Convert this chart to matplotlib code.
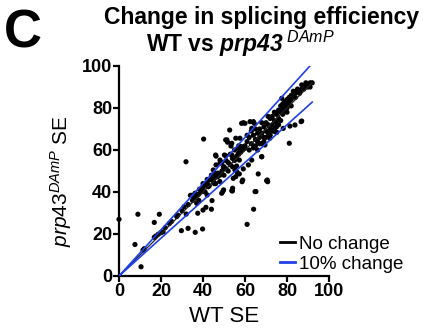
import matplotlib
matplotlib.use("Agg")
import matplotlib.pyplot as plt
from matplotlib.lines import Line2D

plt.rcParams['font.family'] = ['Liberation Sans', 'DejaVu Sans']
plt.rcParams['mathtext.fontset'] = 'custom'
plt.rcParams['mathtext.rm'] = 'Liberation Sans'
plt.rcParams['mathtext.it'] = 'Liberation Sans:italic'
plt.rcParams['mathtext.bf'] = 'Liberation Sans:bold'
plt.rcParams['mathtext.bfit'] = 'Liberation Sans:italic:bold'

# ---- data (WT SE, prp43 DAmP SE) ----
wt_se = [
    0, 9, 7.6, 10.5, 11.4, 12, 16.8, 19.2, 16.8, 18.7, 19.9, 17.5, 27.5, 29.7, 32, 32.9, 36.3, 34, 37.5, 37.3,
    39.8, 40, 41.4, 44, 44.3, 42.5, 45.4, 42, 37, 38, 48.9, 49.8, 54, 58.6, 64.8, 64.1, 61, 70.8,
    31.9, 40.3, 52.7, 59.2, 64.4, 46.2, 50.8, 51.4, 53.3, 55.6, 56.8, 58.9, 57.3, 59.2, 56.3, 55.6, 58.9, 54.1,
    66.3, 70.6, 75.1, 81.1, 86.7, 81.4, 77.5, 67.9, 69.5, 71.9, 46.2, 48.1,
    58.4, 63.2, 62.4, 51.7, 50.8, 57.6, 53.7, 46, 50.2, 53.7, 56.8, 58.4, 48.1, 49.7, 45.7, 44.9, 47, 43, 41,
    38.3, 36.2, 34.6, 56, 55.2, 57.3, 54.4, 49.4, 53.7, 65.2, 68, 70.3, 63.2, 61.6, 60,
    87, 83.8, 78.2, 74.3, 64, 60,
    60, 61, 62, 62, 63, 64, 64, 65, 65, 66, 66, 67, 67, 68, 68, 69, 69, 70, 70, 71, 71, 72, 72, 73, 73, 74, 74,
    75, 75, 76, 76, 77, 77, 78, 78, 79, 79, 80, 80, 81, 61, 63, 66, 67, 69, 70, 72, 73, 75, 76, 65, 68, 71, 74,
    77, 78, 79, 80, 81, 82, 83, 84, 85, 86, 87, 88, 89, 90, 91, 82, 84, 86, 88, 90, 83, 85, 87, 89, 91, 81, 80,
    79, 82, 92,
    36, 38, 39, 40, 41, 42, 43, 44, 45, 46, 47, 48, 49, 50, 51, 52, 53, 54, 55, 56, 57, 58, 59, 52, 54, 50, 48,
    46, 55, 57, 53, 51, 49, 44, 42, 40,
    22, 25, 28, 30, 33, 35, 31, 24, 21,
]
mut_se = [
    27, 29.4, 15, 4.4, 12.3, 13, 25.5, 29.4, 18.4, 19.9, 20.6, 19, 28.3, 21.6, 29.5, 22.7, 20.8, 38.4, 29.9, 38.4,
    22.4, 31.4, 32.7, 31.8, 35.9, 42.5, 44, 38.6, 34.6, 36, 39.4, 41, 40.5, 44.9, 40.2, 31.8, 24.6, 44.9,
    54.4, 65.2, 69.5, 73, 72.7, 57.1, 57.3, 64.8, 61.9, 65.6, 60.8, 60, 55.2, 51, 49.4, 47.3, 45.7, 41.8,
    48.6, 45.7, 68.4, 63.2, 73.5, 71.4, 84.6, 56.8, 62.4, 65.6, 52.9, 55.2,
    72.7, 70.3, 73.5, 63.7, 64.8, 65.6, 63.2, 57.6, 57.6, 57.6, 58.4, 61.6, 53.7, 51.8, 48.9, 50.5, 47.3, 45.7, 43.3,
    41.3, 39.4, 38.4, 52.4, 50.5, 48.6, 46.5, 40.2, 40.6, 40.2, 56.8, 45.4, 55.2, 52.9, 60.8,
    73.8, 71.9, 70.3, 68.7, 73.5, 72.7,
    62, 64, 60, 66, 63, 61, 67, 65, 62, 68, 64, 66, 70, 63, 68, 71, 66, 69, 73, 68, 72, 70, 75, 72, 76, 74, 70,
    77, 73, 75, 79, 78, 74, 80, 77, 79, 82, 81, 78, 83, 67, 69, 60, 63, 64, 66, 67, 69, 71, 72, 70, 73, 76, 78,
    81, 82, 83, 84, 85, 86, 86, 87, 88, 88, 89, 90, 90, 91, 92, 84, 85, 87, 89, 90, 88, 89, 91, 92, 90, 82, 80,
    80, 81, 92,
    37, 39, 40, 42, 40, 44, 43, 46, 45, 47, 49, 48, 50, 52, 51, 54, 53, 56, 55, 57, 58, 59, 61, 50, 52, 48, 45,
    44, 60, 62, 58, 55, 54, 48, 46, 44,
    23, 26, 29, 31, 34, 36, 33, 25, 21,
]
line_end = 92
ticks = [0, 20, 40, 60, 80, 100]
legend_labels = ["No change", "10% change"]

blue = '#2040e8'

fig = plt.figure(figsize=(4.32, 3.35), dpi=100)
ax = fig.add_axes([119/432, 59/335, 210/432, 210/335])

ax.scatter(wt_se, mut_se, s=14, color='black', edgecolors='none', zorder=2, clip_on=False)
ax.plot([0, line_end], [0, line_end], color='#222222', lw=0.9, zorder=3)
ax.plot([0, line_end], [0, line_end * 1.1], color=blue, lw=1.2, zorder=3)
ax.plot([0, line_end], [0, line_end * 0.9], color=blue, lw=1.2, zorder=3)

ax.set_xlim(0, 100)
ax.set_ylim(0, 100)
ax.set_xticks(ticks)
ax.set_yticks(ticks)
ax.set_xticklabels([str(t) for t in ticks], fontsize=13, fontweight='bold')
ax.set_yticklabels([str(t) for t in ticks], fontsize=13, fontweight='bold')
for s in ['top', 'right']:
    ax.spines[s].set_visible(False)
for s in ['left', 'bottom']:
    ax.spines[s].set_linewidth(1.6)
ax.tick_params(direction='out', length=4, width=1.6, pad=1)

ax.set_xlabel('WT SE', fontsize=16, labelpad=4)
ax.set_ylabel(r'$\mathit{prp43}^{\mathit{DAmP}}$ SE', fontsize=15)
ax.yaxis.set_label_coords(-0.215, 0.45)

handles = [Line2D([0], [0], color='black', lw=2), Line2D([0], [0], color=blue, lw=2)]
ax.legend(handles, legend_labels, loc='lower right', bbox_to_anchor=(1.39, -0.02), frameon=False,
          fontsize=13.5, handlelength=0.8, handletextpad=0.2, labelspacing=0.15, borderaxespad=0)

fig.text(0.605, 0.948, 'Change in splicing efficiency', ha='center', va='center', fontsize=16.5, fontweight='bold')
fig.text(0.557, 0.868, r'WT vs $\mathbfit{prp43}^{\ \mathit{DAmP}}$', ha='center', va='center', fontsize=16.5,
         fontweight='bold')
fig.text(0.008, 0.9, 'C', ha='left', va='center', fontsize=38, fontweight='bold')

fig.savefig('out.png', dpi=100)
